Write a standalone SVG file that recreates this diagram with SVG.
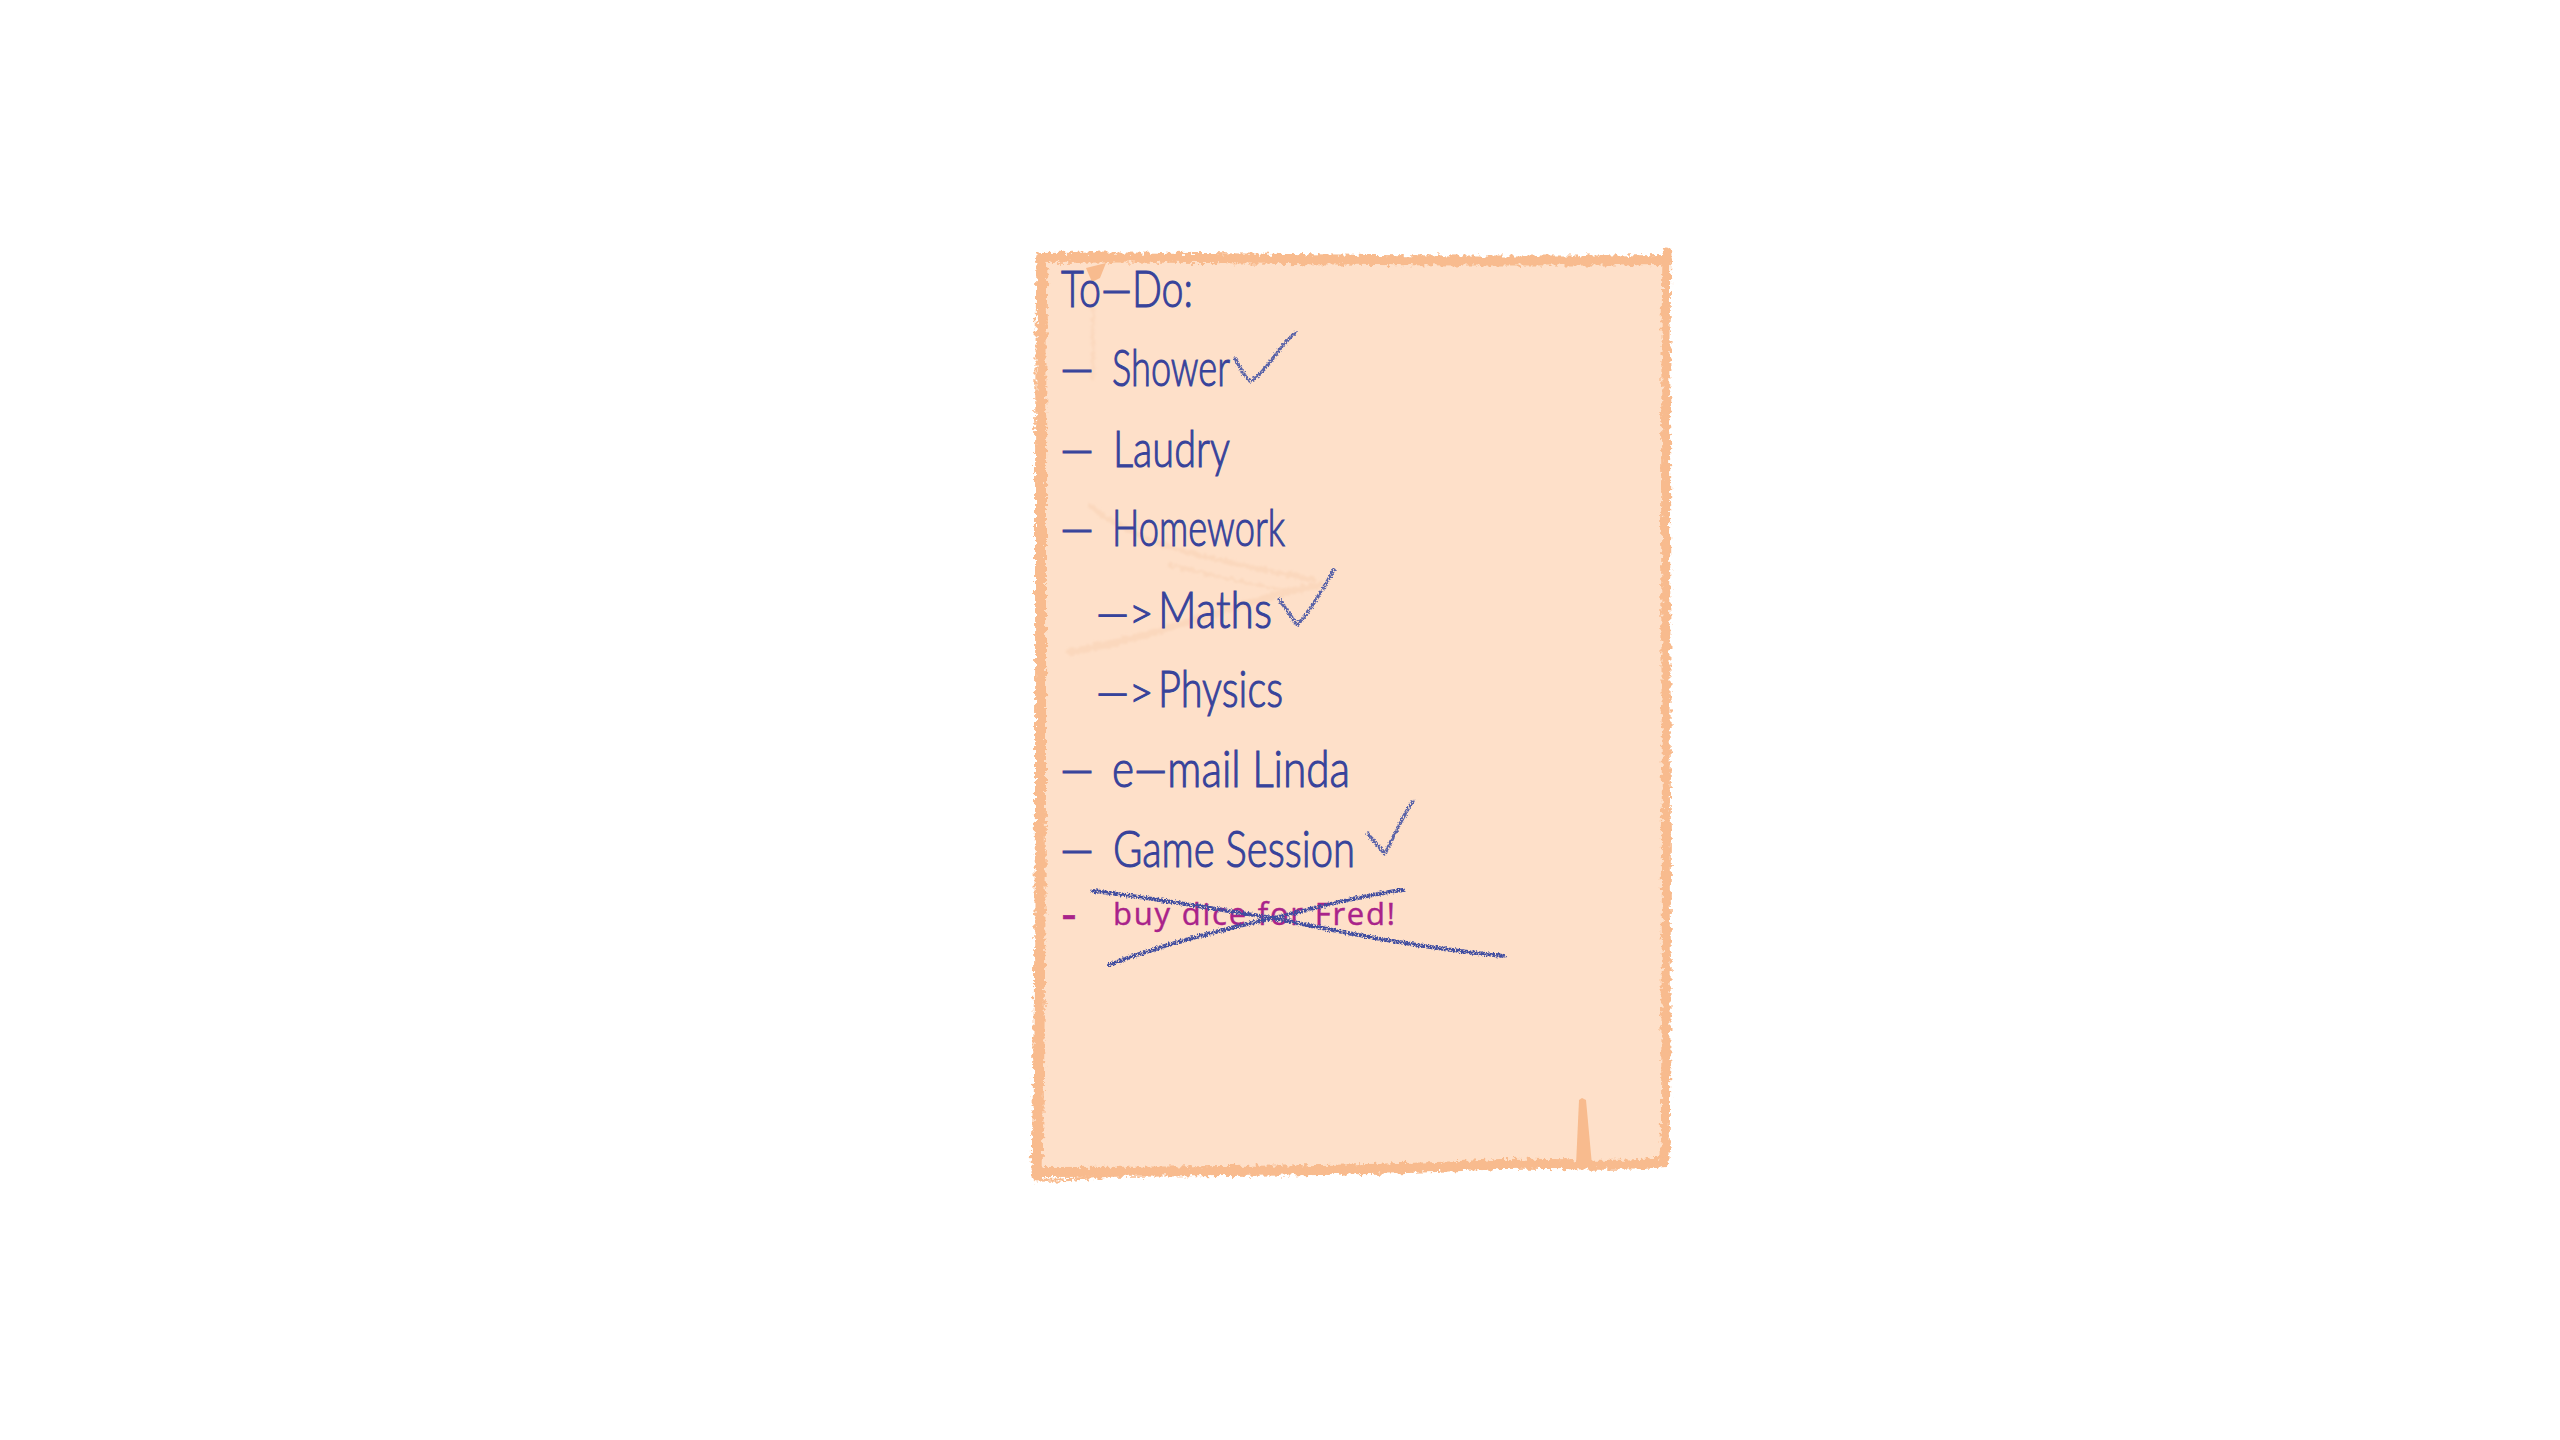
<svg xmlns="http://www.w3.org/2000/svg" width="2560" height="1440" viewBox="0 0 2560 1440">
<style>
.hand{font-family:"Lato","Liberation Sans",sans-serif;font-weight:300;font-size:52px;fill:#37439b;stroke:#37439b;stroke-width:1.1}
.arrow{font-size:42px}
.red{font-family:"Open Sans","Liberation Sans",sans-serif;font-size:31px;fill:#a9238a;stroke:#a9238a;stroke-width:.4}
.edge{fill:none;stroke:#f8bb8e;stroke-linecap:round;filter:url(#rough)}
.faint{fill:none;stroke:#fbd8bd;stroke-linecap:round;filter:url(#soft)}
.check{fill:none;stroke:#5a63a8;stroke-width:3.5;stroke-linecap:round;stroke-linejoin:round;filter:url(#pencil)}
.strike{fill:none;stroke:#414da0;stroke-width:4;stroke-linecap:round;filter:url(#pencil)}
</style>
<defs>
<filter id="rough" filterUnits="userSpaceOnUse" x="0" y="0" width="2560" height="1440"><feTurbulence type="fractalNoise" baseFrequency="0.22" numOctaves="3" seed="4"/><feDisplacementMap in="SourceGraphic" scale="9" xChannelSelector="R" yChannelSelector="G"/></filter>
<filter id="soft" filterUnits="userSpaceOnUse" x="0" y="0" width="2560" height="1440"><feTurbulence type="fractalNoise" baseFrequency="0.2" numOctaves="2" seed="7"/><feDisplacementMap in="SourceGraphic" scale="7" xChannelSelector="R" yChannelSelector="G"/><feGaussianBlur stdDeviation="1"/></filter>
<filter id="pencil" filterUnits="userSpaceOnUse" x="0" y="0" width="2560" height="1440"><feTurbulence type="fractalNoise" baseFrequency="0.6" numOctaves="2" seed="9" result="n"/><feDisplacementMap in="SourceGraphic" in2="n" scale="4" xChannelSelector="R" yChannelSelector="G" result="d"/><feColorMatrix in="n" type="matrix" values="0 0 0 0 0 0 0 0 0 0 0 0 0 0 0 0 0 0 5 -1.4" result="a"/><feComposite in="d" in2="a" operator="in"/></filter>
</defs>
<rect width="2560" height="1440" fill="#ffffff"/>
<g id="paper">
<polygon points="1040,258 1667,260 1664,1162 1038,1174" fill="#fee0c9"/>
<path class="faint" stroke-width="5" d="M1090,505C1140,550 1240,565 1315,580"/>
<path class="faint" stroke-width="3" d="M1170,565C1210,575 1250,585 1285,590"/>
<path class="faint" stroke-width="7" d="M1070,652C1150,640 1240,600 1320,585"/>
<path class="faint" stroke-width="3" d="M1093,300L1093,380"/>
<path class="edge" stroke-width="10" d="M1040,258C1200,255 1350,263 1667,260"/>
<path class="edge" stroke-width="9" d="M1667,252C1663,500 1669,800 1665,1162"/>
<path class="edge" stroke-width="11" d="M1042,259C1038,500 1044,800 1037,1176"/>
<path class="edge" stroke-width="10" d="M1037,1172C1200,1172 1400,1170 1500,1164C1560,1162 1620,1168 1665,1162"/>
<path class="edge" stroke-width="3" d="M1040,1180C1070,1181 1090,1178 1110,1176M1300,1172C1350,1172 1420,1170 1480,1168"/>
<path d="M1582,1098L1586,1100L1592,1165L1576,1165L1579,1100Z" fill="#f8bb8e"/>
<path d="M1086,268L1106,263L1100,278L1092,282Z" fill="#f8bb8e"/>
</g>
<g id="title"><text class="hand" x="1061" y="307" textLength="132" lengthAdjust="spacingAndGlyphs">To—Do:</text></g>
<g id="item-shower"><text class="hand" y="386"><tspan x="1060" textLength="34" lengthAdjust="spacingAndGlyphs">—</tspan><tspan x="1112" textLength="118" lengthAdjust="spacingAndGlyphs">Shower</tspan></text><path class="check" d="M1235,358C1240,368 1245,378 1250,381C1262,378 1280,345 1295,333"/></g>
<g id="item-laundry"><text class="hand" y="467"><tspan x="1060" textLength="34" lengthAdjust="spacingAndGlyphs">—</tspan><tspan x="1113" textLength="117" lengthAdjust="spacingAndGlyphs">Laudry</tspan></text></g>
<g id="item-homework"><text class="hand" y="546"><tspan x="1060" textLength="34" lengthAdjust="spacingAndGlyphs">—</tspan><tspan x="1112" textLength="173" lengthAdjust="spacingAndGlyphs">Homework</tspan></text></g>
<g id="item-maths"><text class="hand" y="628"><tspan class="arrow" x="1096">—&gt;</tspan><tspan x="1158" textLength="114" lengthAdjust="spacingAndGlyphs">Maths</tspan></text><path class="check" d="M1279,599L1297,625C1310,612 1322,590 1334,570"/></g>
<g id="item-physics"><text class="hand" y="707"><tspan class="arrow" x="1096">—&gt;</tspan><tspan x="1158" textLength="125" lengthAdjust="spacingAndGlyphs">Physics</tspan></text></g>
<g id="item-email"><text class="hand" y="787"><tspan x="1060" textLength="34" lengthAdjust="spacingAndGlyphs">—</tspan><tspan x="1112" textLength="238" lengthAdjust="spacingAndGlyphs">e—mail Linda</tspan></text></g>
<g id="item-game"><text class="hand" y="867"><tspan x="1060" textLength="34" lengthAdjust="spacingAndGlyphs">—</tspan><tspan x="1113" textLength="242" lengthAdjust="spacingAndGlyphs">Game Session</tspan></text><path class="check" d="M1368,834L1385,854C1393,838 1403,815 1413,801"/></g>
<g id="item-dice"><text class="red" y="925"><tspan x="1062" textLength="14" lengthAdjust="spacingAndGlyphs" font-weight="700">-</tspan><tspan x="1113" textLength="282" lengthAdjust="spacing">buy dice for Fred!</tspan></text>
<path class="strike" d="M1093,891C1170,900 1230,912 1273,918C1340,932 1420,948 1504,956"/>
<path class="strike" d="M1403,890C1350,897 1310,910 1273,918C1220,930 1160,945 1109,965"/></g>
</svg>
